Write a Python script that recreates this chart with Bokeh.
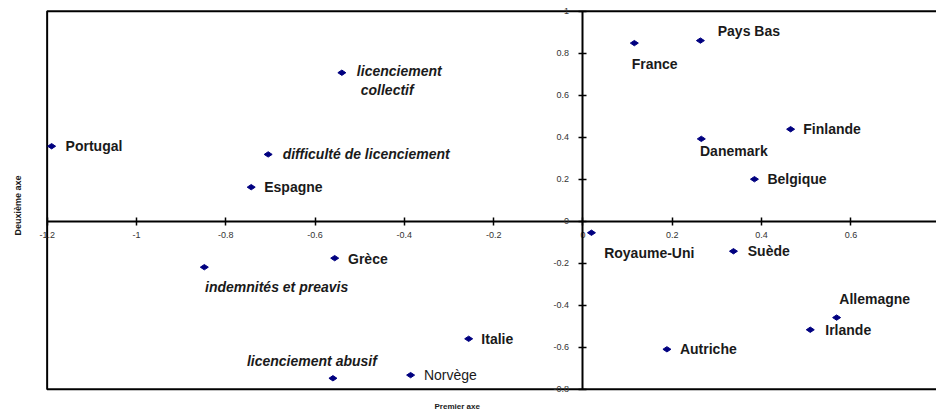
import math
from bokeh.plotting import figure
from bokeh.models import ColumnDataSource, FixedTicker, Title
from bokeh.embed import file_html
from bokeh.resources import INLINE
from bokeh.core.properties import value

# ---- data ----
names = ["Portugal", "difficulté de licenciement", "Espagne",
         "licenciement\n\u00a0collectif", "France", "Pays Bas", "Finlande",
         "Danemark", "Belgique", "indemnités et preavis", "licenciement abusif",
         "Grèce", "Italie", "Norvège", "Royaume-Uni", "Suède", "Allemagne",
         "Irlande", "Autriche"]
premier_axe = [-1.190, -0.705, -0.743, -0.540, 0.115, 0.263, 0.465, 0.265, 0.384,
               -0.848, -0.560, -0.556, -0.256, -0.386, 0.019, 0.337, 0.568,
               0.509, 0.188]
deuxieme_axe = [0.357, 0.318, 0.162, 0.707, 0.848, 0.860, 0.438, 0.392, 0.200,
                -0.219, -0.748, -0.176, -0.560, -0.733, -0.055, -0.143, -0.459,
                -0.517, -0.610]

x_ticks = [-1.2, -1.0, -0.8, -0.6, -0.4, -0.2, 0, 0.2, 0.4, 0.6, 0.8]
x_tick_labels = ["-1.2", "-1", "-0.8", "-0.6", "-0.4", "-0.2", "0", "0.2", "0.4", "0.6", "0.8"]
y_ticks = [-0.8, -0.6, -0.4, -0.2, 0, 0.2, 0.4, 0.6, 0.8, 1.0]
y_tick_labels = ["-0.8", "-0.6", "-0.4", "-0.2", "0", "0.2", "0.4", "0.6", "0.8", "1"]

x_title = "Premier axe"
y_title = "Deuxième axe"

# ---- label styling (pixel offsets / font styles) ----
label_styles = ["bold", "bold italic", "bold", "bold italic", "bold", "bold", "bold",
                "bold", "bold", "bold italic", "bold italic", "bold", "bold", "normal",
                "bold", "bold", "bold", "bold", "bold"]
label_dx = [14, 14.5, 13, 15, -2.7, 17.3, 12.7, -1.3, 13, 0.7, -86, 13.3, 12.7, 13.3,
            12.7, 14.3, 2.7, 15, 13]
label_dy = [0, 0, 0, 8, 21.3, -9.3, 0, 12.3, 0, 20, -17, 0.7, 0, 0, 20, 0, -18.3,
            0.7, 0]

src = ColumnDataSource(dict(x=premier_axe, y=deuxieme_axe, name=names,
                            style=label_styles, dx=label_dx, dy=label_dy))

# plot area a little wider than the boxed region so end tick labels are not clipped
p = figure(width=936, height=414, output_backend="svg", toolbar_location=None,
           x_range=(-1.2328, 0.7917), y_range=(-0.8348, 1.0319),
           min_border_left=30, min_border_right=0, min_border_top=4,
           min_border_bottom=18)
p.grid.visible = False
p.outline_line_color = None
p.background_fill_color = "white"
p.border_fill_color = "white"

# box around the chart region (drawn from the tick extents)
p.quad(left=[x_ticks[0]], right=[x_ticks[-1]], bottom=[y_ticks[0]], top=[y_ticks[-1]],
       fill_color=None, line_color="black", line_width=2)

for ax, ticks, labels, standoff in ((p.xaxis, x_ticks, x_tick_labels, 7),
                                    (p.yaxis, y_ticks, y_tick_labels, 10)):
    ax.fixed_location = 0
    ax.bounds = (ticks[0], ticks[-1])
    ax.ticker = FixedTicker(ticks=ticks)
    ax.major_label_overrides = {t: l for t, l in zip(ticks, labels)}
    ax.axis_line_width = 2
    ax.axis_line_color = "black"
    ax.major_tick_line_width = 1.5
    ax.major_tick_in = 4
    ax.major_tick_out = 4
    ax.minor_tick_line_color = None
    ax.major_label_text_font = "Liberation Sans"
    ax.major_label_text_font_size = "9px"
    ax.major_label_text_color = "#333333"
    ax.major_label_standoff = standoff

p.scatter(x="x", y="y", source=src, marker="diamond", size=8, angle=math.pi / 2,
          fill_color="#000080", line_color="#000080")

p.text(x="x", y="y", text="name", source=src, x_offset="dx", y_offset="dy",
       text_font=value("Liberation Sans"), text_font_style="style",
       text_font_size=value("14px"), text_color="#1a1a1a",
       text_align="left", text_baseline="middle")

p.add_layout(Title(text=x_title, align="left", offset=402, standoff=7,
                   text_font="Liberation Sans", text_font_size="8px",
                   text_font_style="bold", text_color="#1a1a1a"), "below")
p.add_layout(Title(text=y_title, align="left", offset=161, standoff=20,
                   text_font="Liberation Sans", text_font_size="9px",
                   text_font_style="bold", text_color="#1a1a1a"), "left")

open("out.html", "w").write(file_html(p, INLINE))
